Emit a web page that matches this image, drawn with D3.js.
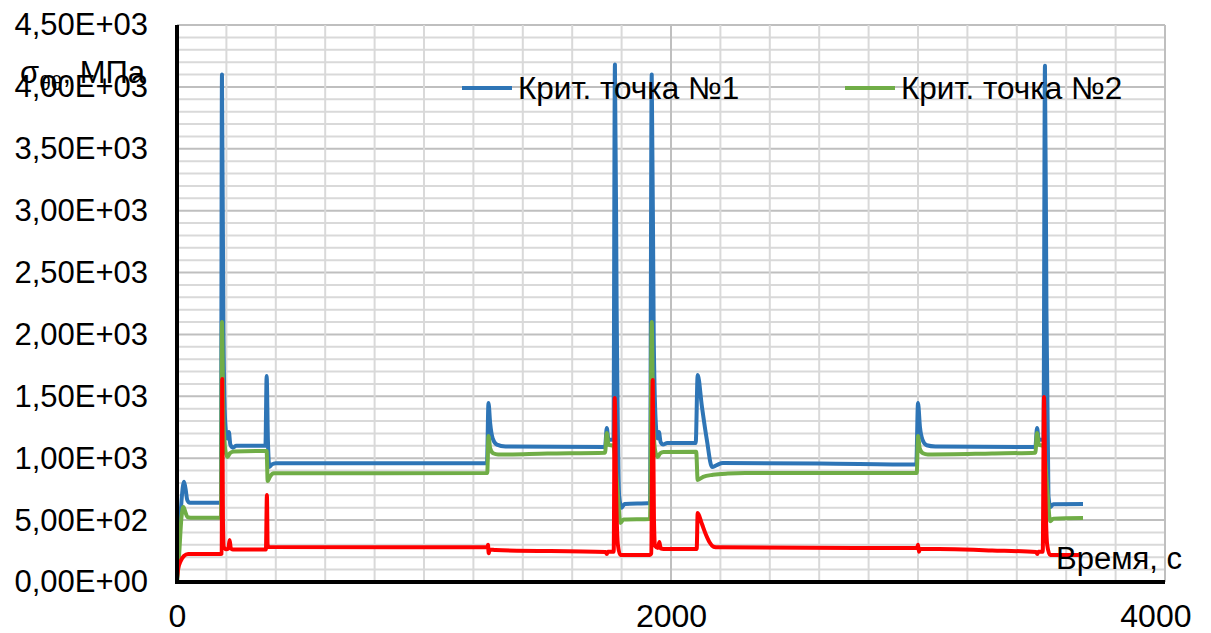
<!DOCTYPE html>
<html>
<head>
<meta charset="utf-8">
<script src="https://cdn.jsdelivr.net/npm/d3@7"></script>
<style>
  body { margin: 0; background: #fff; }
  text { font-family: "Liberation Sans", Arial, sans-serif; fill: #000; }
</style>
</head>
<body>
<svg width="1211" height="633"></svg>
<script>
// время, с и напряжения, МПа для трёх критических точек
const time1 = [0, 8, 18, 28, 34, 42, 52, 178, 182, 188, 195, 203, 210, 216, 226, 240, 358, 363, 368, 374, 384, 400,
  1255, 1261, 1268, 1278, 1295, 1330, 1733, 1740, 1747, 1767, 1773, 1780, 1790, 1800, 1812, 1915, 1922, 1930, 1938,
  1945, 1951, 1958, 1968, 1985, 2100, 2108, 2125, 2145, 2166, 2185, 2210, 2600, 2993, 3000, 3008, 3018, 3035, 3070,
  3475, 3482, 3489, 3508, 3514, 3520, 3528, 3536, 3548, 3668];
const crit1 = [0, 320, 650, 810, 760, 660, 640, 640, 4100, 2000, 1300, 1160, 1212, 1110, 1085, 1100, 1100, 1664, 1150, 930, 950, 960,
  960, 1446, 1280, 1160, 1110, 1095, 1090, 1244, 1150, 1150, 4180, 2200, 700, 600, 630, 638, 4100, 2000, 1300,
  1160, 1212, 1130, 1110, 1123, 1123, 1672, 1420, 1150, 929, 945, 961, 958, 950, 1446, 1250, 1150, 1105, 1095,
  1090, 1244, 1150, 1150, 4170, 2200, 700, 606, 628, 630];

const time2 = [0, 8, 18, 26, 33, 42, 55, 178, 182, 188, 196, 204, 214, 230, 360, 363, 367, 376, 392,
  1256, 1261, 1268, 1280, 1300, 1500, 1733, 1740, 1747, 1767, 1773, 1785, 1795, 1808, 1915, 1922, 1928, 1936,
  1946, 1956, 1970, 2102, 2108, 2130, 2170, 2230, 2300, 2995, 3000, 3007, 3020, 3040, 3300, 3475, 3482, 3489,
  3508, 3514, 3525, 3535, 3548, 3668];
const crit2 = [0, 200, 520, 606, 570, 525, 520, 520, 2100, 1300, 1060, 1010, 1040, 1055, 1058, 1058, 816, 850, 878,
  880, 1180, 1080, 1040, 1030, 1038, 1045, 1204, 1110, 1100, 1000, 700, 477, 505, 509, 2100, 1300, 1060,
  1010, 1040, 1050, 1052, 824, 850, 866, 876, 880, 880, 1180, 1080, 1040, 1030, 1038, 1045, 1204, 1110,
  1100, 1000, 700, 490, 512, 517];

const time3 = [0, 5, 14, 28, 45, 178, 181, 183, 186, 190, 200, 208, 213, 218, 226, 360, 364, 367, 372,
  1256, 1259, 1262, 1266, 1290, 1735, 1740, 1744, 1768, 1772, 1778, 1785, 1795, 1915, 1920, 1926, 1931, 1936,
  1947, 1953, 1958, 1970, 2104, 2108, 2125, 2142, 2158, 2172, 2190, 2996, 3000, 3004, 3008, 3300, 3478, 3483,
  3487, 3505, 3510, 3516, 3523, 3535, 3658];
const crit3 = [30, 110, 165, 210, 226, 226, 230, 1640, 500, 280, 265, 270, 340, 272, 262, 262, 703, 300, 283,
  280, 300, 232, 262, 258, 242, 226, 245, 245, 1486, 700, 300, 218, 218, 230, 1632, 500, 290,
  275, 323, 272, 267, 267, 557, 470, 380, 315, 285, 280, 275, 300, 245, 268, 255, 242, 226,
  245, 245, 1495, 700, 300, 218, 218];

const legendNames = ["Крит. точка №1", "Крит. точка №2"];
const yTicks = d3.range(0, 4501, 500);
const xTicks = [0, 2000, 4000];

const svg = d3.select("svg");
const margin = {left: 177, top: 25, right: 46, bottom: 51};
const W = 1211 - margin.left - margin.right,
      H = 633 - margin.top - margin.bottom;

const x = d3.scaleLinear().domain([0, 4000]).range([0, W]);
const y = d3.scaleLinear().domain([0, 4500]).range([H, 0]);

const g = svg.append("g").attr("transform", `translate(${margin.left},${margin.top})`);

// сетка
g.append("g").selectAll("line")
  .data(d3.range(0, 4501, 100))
  .join("line")
    .attr("x1", 0).attr("x2", W)
    .attr("y1", d => y(d)).attr("y2", d => y(d))
    .attr("stroke", d => d % 500 ? "#d9d9d9" : "#bfbfbf")
    .attr("stroke-width", 2);

g.append("g").selectAll("line")
  .data(d3.range(200, 4001, 200))
  .join("line")
    .attr("y1", 0).attr("y2", H)
    .attr("x1", d => x(d)).attr("x2", d => x(d))
    .attr("stroke", d => d % 2000 ? "#d9d9d9" : "#bfbfbf")
    .attr("stroke-width", 2);

// оси
const fmt = v => {
  const [m, e] = v.toExponential(2).split("e");
  const ex = +e;
  return m.replace(".", ",") + "E" + (ex < 0 ? "-" : "+") + String(Math.abs(ex)).padStart(2, "0");
};

g.append("g")
  .call(d3.axisLeft(y).tickValues(yTicks).tickSize(0).tickPadding(29).tickFormat(fmt))
  .call(a => a.select(".domain").remove())
  .selectAll("text").attr("font-size", 31).attr("font-family", "Liberation Sans, Arial");

g.append("g")
  .attr("transform", `translate(0,${H})`)
  .call(d3.axisBottom(x).tickValues(xTicks).tickSize(0).tickPadding(22).tickFormat(d3.format("d")))
  .call(a => a.select(".domain").remove())
  .selectAll("text")
    .attr("font-size", 32).attr("font-family", "Liberation Sans, Arial")
    .attr("text-anchor", d => d === 4000 ? "end" : "middle")
    .attr("x", d => d === 4000 ? 26 : 0);

// линии
const line = d3.line().x(d => x(d[0])).y(d => y(d[1])).curve(d3.curveMonotoneX);
const series = [
  {t: time1, v: crit1, color: "#2e75b6"},
  {t: time2, v: crit2, color: "#70ad47"},
  {t: time3, v: crit3, color: "#ff0000"}
];
series.forEach(s => {
  g.append("path")
    .datum(d3.zip(s.t, s.v))
    .attr("fill", "none")
    .attr("stroke", s.color)
    .attr("stroke-width", 4)
    .attr("stroke-linejoin", "round")
    .attr("d", line);
});

g.append("line").attr("x1", 0).attr("x2", W).attr("y1", H).attr("y2", H)
  .attr("stroke", "#000").attr("stroke-width", 4);
g.append("line").attr("x1", 0).attr("x2", 0).attr("y1", 0).attr("y2", H + 2)
  .attr("stroke", "#000").attr("stroke-width", 4);

// легенда
const leg = svg.append("g");
[[462, 0], [845, 1]].forEach(([lx, i]) => {
  leg.append("line").attr("x1", lx).attr("x2", lx + 50).attr("y1", 88).attr("y2", 88)
    .attr("stroke", series[i].color).attr("stroke-width", 4);
  leg.append("text").attr("x", lx + 56).attr("y", 88).attr("dy", "0.35em")
    .attr("font-size", 31.5).text(legendNames[i]);
});

// подписи осей
const yt = svg.append("text").attr("x", 20).attr("y", 83).attr("font-size", 31);
yt.append("tspan").text("σ");
yt.append("tspan").attr("font-size", 21).attr("dy", 7).text("θθ");
yt.append("tspan").attr("dy", -7).text(", МПа");

svg.append("text").attr("x", 1056).attr("y", 569).attr("font-size", 31).text("Время, с");
</script>
</body>
</html>
